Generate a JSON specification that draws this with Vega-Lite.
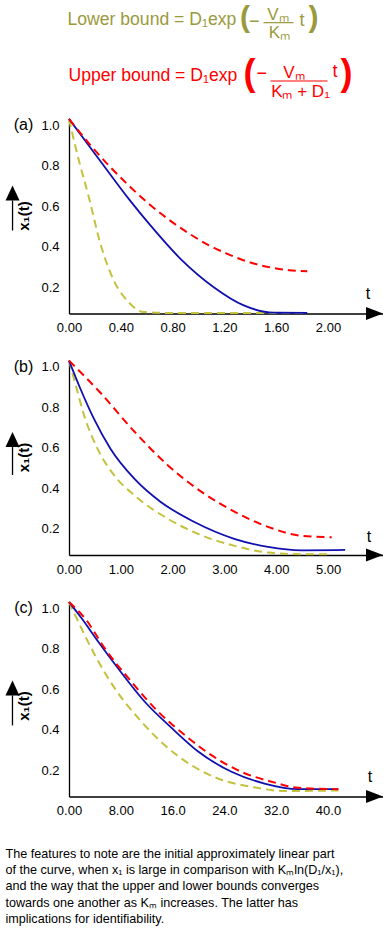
{
  "$schema": "https://vega.github.io/schema/vega-lite/v6.json",
  "padding": {"left": 5, "top": 0, "right": 0, "bottom": 0},
  "config": {
    "font": "Liberation Sans",
    "view": {"stroke": null},
    "axis": {"grid": false, "ticks": false, "domainColor": "#000", "domainWidth": 1.3, "labelColor": "#000", "labelFontSize": 13, "labelFont": "Liberation Sans", "labelFlush": false, "labelOverlap": false, "labelBound": false, "titleColor": "#000", "titleFont": "Liberation Sans"}
  },
  "title": {
    "text": [
      "The features to note are the initial approximately linear part",
      "of the curve, when x₁ is large in comparison with Kₘln(D₁/x₁),",
      "and the way that the upper and lower bounds converges",
      "towards one another as Kₘ increases.  The latter has",
      "implications for identifiability."
    ],
    "orient": "bottom", "anchor": "start", "fontSize": 12.6, "fontWeight": "normal", "lineHeight": 16.4, "color": "#000", "font": "Liberation Sans", "offset": 30
  },
  "datasets": {
    "curves": [
      {"panel":"a","bound":"lower","t":0,"x1":1.031},{"panel":"a","bound":"lower","t":0.063,"x1":0.859},{"panel":"a","bound":"lower","t":0.153,"x1":0.645},{"panel":"a","bound":"lower","t":0.243,"x1":0.414},{"panel":"a","bound":"lower","t":0.346,"x1":0.233},{"panel":"a","bound":"lower","t":0.449,"x1":0.134},{"panel":"a","bound":"lower","t":0.578,"x1":0.077},{"panel":"a","bound":"lower","t":0.75,"x1":0.073},{"panel":"a","bound":"lower","t":1.2,"x1":0.073},{"panel":"a","bound":"lower","t":1.84,"x1":0.073},
      {"panel":"a","bound":"model","t":0,"x1":1.031},{"panel":"a","bound":"model","t":0.243,"x1":0.822},{"panel":"a","bound":"model","t":0.475,"x1":0.625},{"panel":"a","bound":"model","t":0.629,"x1":0.505},{"panel":"a","bound":"model","t":0.861,"x1":0.34},{"panel":"a","bound":"model","t":1.118,"x1":0.2},{"panel":"a","bound":"model","t":1.35,"x1":0.11},{"panel":"a","bound":"model","t":1.582,"x1":0.074},{"panel":"a","bound":"model","t":1.84,"x1":0.073},
      {"panel":"a","bound":"upper","t":0,"x1":1.031},{"panel":"a","bound":"upper","t":0.154,"x1":0.91},{"panel":"a","bound":"upper","t":0.309,"x1":0.8},{"panel":"a","bound":"upper","t":0.463,"x1":0.701},{"panel":"a","bound":"upper","t":0.618,"x1":0.611},{"panel":"a","bound":"upper","t":0.772,"x1":0.533},{"panel":"a","bound":"upper","t":0.927,"x1":0.465},{"panel":"a","bound":"upper","t":1.081,"x1":0.407},{"panel":"a","bound":"upper","t":1.236,"x1":0.361},{"panel":"a","bound":"upper","t":1.39,"x1":0.324},{"panel":"a","bound":"upper","t":1.544,"x1":0.299},{"panel":"a","bound":"upper","t":1.699,"x1":0.284},{"panel":"a","bound":"upper","t":1.84,"x1":0.279},
      {"panel":"b","bound":"lower","t":0,"x1":1.03},{"panel":"b","bound":"lower","t":0.13,"x1":0.909},{"panel":"b","bound":"lower","t":0.29,"x1":0.761},{"panel":"b","bound":"lower","t":0.55,"x1":0.595},{"panel":"b","bound":"lower","t":0.87,"x1":0.464},{"panel":"b","bound":"lower","t":1.26,"x1":0.365},{"panel":"b","bound":"lower","t":1.9,"x1":0.25},{"panel":"b","bound":"lower","t":2.55,"x1":0.168},{"panel":"b","bound":"lower","t":3.2,"x1":0.115},{"panel":"b","bound":"lower","t":3.84,"x1":0.082},{"panel":"b","bound":"lower","t":4.49,"x1":0.074},{"panel":"b","bound":"lower","t":5.07,"x1":0.074},
      {"panel":"b","bound":"model","t":0,"x1":1.03},{"panel":"b","bound":"model","t":0.22,"x1":0.891},{"panel":"b","bound":"model","t":0.48,"x1":0.743},{"panel":"b","bound":"model","t":0.8,"x1":0.595},{"panel":"b","bound":"model","t":1.26,"x1":0.447},{"panel":"b","bound":"model","t":1.77,"x1":0.332},{"panel":"b","bound":"model","t":2.42,"x1":0.233},{"panel":"b","bound":"model","t":3.19,"x1":0.15},{"panel":"b","bound":"model","t":3.84,"x1":0.11},{"panel":"b","bound":"model","t":4.49,"x1":0.093},{"panel":"b","bound":"model","t":5.33,"x1":0.095},
      {"panel":"b","bound":"upper","t":0,"x1":1.03},{"panel":"b","bound":"upper","t":0.61,"x1":0.87},{"panel":"b","bound":"upper","t":1.26,"x1":0.68},{"panel":"b","bound":"upper","t":1.9,"x1":0.515},{"panel":"b","bound":"upper","t":2.55,"x1":0.383},{"panel":"b","bound":"upper","t":3.2,"x1":0.283},{"panel":"b","bound":"upper","t":3.84,"x1":0.209},{"panel":"b","bound":"upper","t":4.49,"x1":0.165},{"panel":"b","bound":"upper","t":5.07,"x1":0.158},
      {"panel":"c","bound":"lower","t":0,"x1":1.03},{"panel":"c","bound":"lower","t":1.43,"x1":0.933},{"panel":"c","bound":"lower","t":4.0,"x1":0.768},{"panel":"c","bound":"lower","t":7.1,"x1":0.603},{"panel":"c","bound":"lower","t":11.2,"x1":0.439},{"panel":"c","bound":"lower","t":14.8,"x1":0.323},{"panel":"c","bound":"lower","t":18.9,"x1":0.225},{"panel":"c","bound":"lower","t":23,"x1":0.159},{"panel":"c","bound":"lower","t":28.2,"x1":0.118},{"panel":"c","bound":"lower","t":33.3,"x1":0.097},{"panel":"c","bound":"lower","t":41.6,"x1":0.1},
      {"panel":"c","bound":"model","t":0,"x1":1.03},{"panel":"c","bound":"model","t":1.95,"x1":0.95},{"panel":"c","bound":"model","t":4.52,"x1":0.834},{"panel":"c","bound":"model","t":7.6,"x1":0.702},{"panel":"c","bound":"model","t":11.7,"x1":0.538},{"panel":"c","bound":"model","t":15.8,"x1":0.41},{"panel":"c","bound":"model","t":20,"x1":0.291},{"panel":"c","bound":"model","t":25.1,"x1":0.192},{"panel":"c","bound":"model","t":30.2,"x1":0.134},{"panel":"c","bound":"model","t":35.4,"x1":0.106},{"panel":"c","bound":"model","t":41.6,"x1":0.106},
      {"panel":"c","bound":"upper","t":0,"x1":1.03},{"panel":"c","bound":"upper","t":2.47,"x1":0.95},{"panel":"c","bound":"upper","t":5.56,"x1":0.8},{"panel":"c","bound":"upper","t":9.66,"x1":0.636},{"panel":"c","bound":"upper","t":13.8,"x1":0.488},{"panel":"c","bound":"upper","t":17.9,"x1":0.373},{"panel":"c","bound":"upper","t":22,"x1":0.274},{"panel":"c","bound":"upper","t":26.6,"x1":0.192},{"panel":"c","bound":"upper","t":31.3,"x1":0.143},{"panel":"c","bound":"upper","t":35.4,"x1":0.113},{"panel":"c","bound":"upper","t":41.6,"x1":0.106}
    ]
  },
  "bounds": "flush",
  "spacing": 46.5,
  "vconcat": [
    {
      "width": 314, "height": 71.5,
      "data": {"values": [{}]},
      "layer": [
        {"mark": {"type": "text", "text": "Lower bound = D₁exp", "align": "left", "baseline": "alphabetic", "fontSize": 17.6, "color": "#9a9a3c", "clip": false},
         "encoding": {"x": {"datum": -0.48, "type": "quantitative", "scale": {"domain": [0, 100]}, "axis": null}, "y": {"datum": 34.3, "type": "quantitative", "scale": {"domain": [0, 100], "reverse": true}, "axis": null}}},
        {"mark": {"type": "text", "text": "(", "align": "left", "baseline": "alphabetic", "fontSize": 30, "fontWeight": "bold", "color": "#9a9a3c", "clip": false},
         "encoding": {"x": {"datum": 54.46, "type": "quantitative", "scale": {"domain": [0, 100]}, "axis": null}, "y": {"datum": 37.8, "type": "quantitative", "scale": {"domain": [0, 100], "reverse": true}, "axis": null}}},
        {"mark": {"type": "text", "text": "−", "align": "left", "baseline": "alphabetic", "fontSize": 18, "color": "#9a9a3c", "clip": false},
         "encoding": {"x": {"datum": 57.32, "type": "quantitative", "scale": {"domain": [0, 100]}, "axis": null}, "y": {"datum": 37.8, "type": "quantitative", "scale": {"domain": [0, 100], "reverse": true}, "axis": null}}},
        {"mark": {"type": "text", "text": "Vₘ", "align": "center", "baseline": "alphabetic", "fontSize": 17, "color": "#9a9a3c", "clip": false},
         "encoding": {"x": {"datum": 66.56, "type": "quantitative", "scale": {"domain": [0, 100]}, "axis": null}, "y": {"datum": 28.0, "type": "quantitative", "scale": {"domain": [0, 100], "reverse": true}, "axis": null}}},
        {"mark": {"type": "rule", "color": "#9a9a3c", "strokeWidth": 1.2, "clip": false},
         "encoding": {"x": {"datum": 61.94, "type": "quantitative", "scale": {"domain": [0, 100]}, "axis": null}, "x2": {"datum": 71.5}, "y": {"datum": 31.7, "type": "quantitative", "scale": {"domain": [0, 100], "reverse": true}, "axis": null}}},
        {"mark": {"type": "text", "text": "Kₘ", "align": "center", "baseline": "alphabetic", "fontSize": 17, "color": "#9a9a3c", "clip": false},
         "encoding": {"x": {"datum": 67.04, "type": "quantitative", "scale": {"domain": [0, 100]}, "axis": null}, "y": {"datum": 53.1, "type": "quantitative", "scale": {"domain": [0, 100], "reverse": true}, "axis": null}}},
        {"mark": {"type": "text", "text": "t", "align": "left", "baseline": "alphabetic", "fontSize": 18, "color": "#9a9a3c", "clip": false},
         "encoding": {"x": {"datum": 73.41, "type": "quantitative", "scale": {"domain": [0, 100]}, "axis": null}, "y": {"datum": 36.4, "type": "quantitative", "scale": {"domain": [0, 100], "reverse": true}, "axis": null}}},
        {"mark": {"type": "text", "text": ")", "align": "left", "baseline": "alphabetic", "fontSize": 30, "fontWeight": "bold", "color": "#9a9a3c", "clip": false},
         "encoding": {"x": {"datum": 76.27, "type": "quantitative", "scale": {"domain": [0, 100]}, "axis": null}, "y": {"datum": 37.8, "type": "quantitative", "scale": {"domain": [0, 100], "reverse": true}, "axis": null}}},
        {"mark": {"type": "text", "text": "Upper bound = D₁exp", "align": "left", "baseline": "alphabetic", "fontSize": 17.6, "color": "#ff0000", "clip": false},
         "encoding": {"x": {"datum": -0.16, "type": "quantitative", "scale": {"domain": [0, 100]}, "axis": null}, "y": {"datum": 113.3, "type": "quantitative", "scale": {"domain": [0, 100], "reverse": true}, "axis": null}}},
        {"mark": {"type": "text", "text": "(", "align": "left", "baseline": "alphabetic", "fontSize": 36, "fontWeight": "bold", "color": "#ff0000", "clip": false},
         "encoding": {"x": {"datum": 55.57, "type": "quantitative", "scale": {"domain": [0, 100]}, "axis": null}, "y": {"datum": 118.2, "type": "quantitative", "scale": {"domain": [0, 100], "reverse": true}, "axis": null}}},
        {"mark": {"type": "text", "text": "−", "align": "left", "baseline": "alphabetic", "fontSize": 18, "color": "#ff0000", "clip": false},
         "encoding": {"x": {"datum": 59.71, "type": "quantitative", "scale": {"domain": [0, 100]}, "axis": null}, "y": {"datum": 110.5, "type": "quantitative", "scale": {"domain": [0, 100], "reverse": true}, "axis": null}}},
        {"mark": {"type": "text", "text": "Vₘ", "align": "center", "baseline": "alphabetic", "fontSize": 17, "color": "#ff0000", "clip": false},
         "encoding": {"x": {"datum": 71.66, "type": "quantitative", "scale": {"domain": [0, 100]}, "axis": null}, "y": {"datum": 109.1, "type": "quantitative", "scale": {"domain": [0, 100], "reverse": true}, "axis": null}}},
        {"mark": {"type": "rule", "color": "#ff0000", "strokeWidth": 1.2, "clip": false},
         "encoding": {"x": {"datum": 64.17, "type": "quantitative", "scale": {"domain": [0, 100]}, "axis": null}, "x2": {"datum": 82.32}, "y": {"datum": 113.3, "type": "quantitative", "scale": {"domain": [0, 100], "reverse": true}, "axis": null}}},
        {"mark": {"type": "text", "text": "Kₘ + D₁", "align": "center", "baseline": "alphabetic", "fontSize": 17, "color": "#ff0000", "clip": false},
         "encoding": {"x": {"datum": 73.73, "type": "quantitative", "scale": {"domain": [0, 100]}, "axis": null}, "y": {"datum": 135.7, "type": "quantitative", "scale": {"domain": [0, 100], "reverse": true}, "axis": null}}},
        {"mark": {"type": "text", "text": "t", "align": "left", "baseline": "alphabetic", "fontSize": 18, "color": "#ff0000", "clip": false},
         "encoding": {"x": {"datum": 83.92, "type": "quantitative", "scale": {"domain": [0, 100]}, "axis": null}, "y": {"datum": 107.7, "type": "quantitative", "scale": {"domain": [0, 100], "reverse": true}, "axis": null}}},
        {"mark": {"type": "text", "text": ")", "align": "left", "baseline": "alphabetic", "fontSize": 36, "fontWeight": "bold", "color": "#ff0000", "clip": false},
         "encoding": {"x": {"datum": 86.46, "type": "quantitative", "scale": {"domain": [0, 100]}, "axis": null}, "y": {"datum": 118.2, "type": "quantitative", "scale": {"domain": [0, 100], "reverse": true}, "axis": null}}}
      ]
    },
    {
      "width": 314, "height": 195,
      "encoding": {
        "x": {"type": "quantitative", "scale": {"domain": [0, 2.425], "nice": false, "zero": false},
              "axis": {"values": [0, 0.4, 0.8, 1.2, 1.6, 2.0], "format": ".2f", "labelPadding": 8, "title": "t", "titleFontSize": 16, "titleFontWeight": "normal", "titleX": 298.5, "titleY": -20, "titleBaseline": "middle", "titleAlign": "center", "titleAngle": 0}},
        "y": {"type": "quantitative", "scale": {"domain": [0.07, 1.033], "nice": false, "zero": false},
              "axis": {"values": [0.2, 0.4, 0.6, 0.8, 1.0], "format": ".1f", "labelPadding": 10, "title": "x₁(t)", "titleFontSize": 15, "titleFontWeight": "bold", "titleX": -40.5, "titleY": 97, "titleBaseline": "alphabetic", "titleAlign": "center", "titleAngle": 270}}
      },
      "layer": [
        {"data": {"name": "curves"}, "transform": [{"filter": "datum.panel === 'a' && datum.bound === 'lower'"}],
         "mark": {"type": "line", "color": "#c4c13c", "strokeWidth": 2, "strokeDash": [8, 5], "interpolate": "monotone", "clip": false},
         "encoding": {"x": {"field": "t", "type": "quantitative"}, "y": {"field": "x1", "type": "quantitative"}}},
        {"data": {"name": "curves"}, "transform": [{"filter": "datum.panel === 'a' && datum.bound === 'model'"}],
         "mark": {"type": "line", "color": "#1010b0", "strokeWidth": 1.8, "interpolate": "monotone", "clip": false},
         "encoding": {"x": {"field": "t", "type": "quantitative"}, "y": {"field": "x1", "type": "quantitative"}}},
        {"data": {"name": "curves"}, "transform": [{"filter": "datum.panel === 'a' && datum.bound === 'upper'"}],
         "mark": {"type": "line", "color": "#ff0000", "strokeWidth": 2, "strokeDash": [8, 5], "interpolate": "monotone", "clip": false},
         "encoding": {"x": {"field": "t", "type": "quantitative"}, "y": {"field": "x1", "type": "quantitative"}}},
        {"data": {"values": [{}]},
         "mark": {"type": "point", "shape": "M 0 0 L -2 -0.765 L -2 0.765 Z", "filled": true, "color": "#000", "opacity": 1, "size": 289, "strokeWidth": 0, "clip": false},
         "encoding": {"x": {"datum": 2.425}, "y": {"datum": 0.07}}},
        {"data": {"values": [{}]},
         "mark": {"type": "rule", "color": "#000", "strokeWidth": 1.3, "clip": false},
         "encoding": {"x": {"datum": -0.436}, "y": {"datum": 0.628}, "y2": {"datum": 0.48}}},
        {"data": {"values": [{}]},
         "mark": {"type": "point", "shape": "M 0 0 L 1 2.14 L -1 2.14 Z", "filled": true, "color": "#000", "opacity": 1, "size": 196, "strokeWidth": 0, "clip": false},
         "encoding": {"x": {"datum": -0.436}, "y": {"datum": 0.702}}},
        {"data": {"values": [{}]},
         "mark": {"type": "text", "text": "(a)", "fontSize": 16, "align": "center", "baseline": "middle", "color": "#000", "clip": false},
         "encoding": {"x": {"datum": -0.351}, "y": {"datum": 1.0}}}
      ]
    },
    {
      "width": 314, "height": 195,
      "encoding": {
        "x": {"type": "quantitative", "scale": {"domain": [0, 6.06], "nice": false, "zero": false},
              "axis": {"values": [0, 1, 2, 3, 4, 5], "format": ".2f", "labelPadding": 8, "title": "t", "titleFontSize": 16, "titleFontWeight": "normal", "titleX": 299.5, "titleY": -19, "titleBaseline": "middle", "titleAlign": "center", "titleAngle": 0}},
        "y": {"type": "quantitative", "scale": {"domain": [0.07, 1.033], "nice": false, "zero": false},
              "axis": {"values": [0.2, 0.4, 0.6, 0.8, 1.0], "format": ".1f", "labelPadding": 10, "title": "x₁(t)", "titleFontSize": 15, "titleFontWeight": "bold", "titleX": -40.5, "titleY": 97, "titleBaseline": "alphabetic", "titleAlign": "center", "titleAngle": 270}}
      },
      "layer": [
        {"data": {"name": "curves"}, "transform": [{"filter": "datum.panel === 'b' && datum.bound === 'lower'"}],
         "mark": {"type": "line", "color": "#c4c13c", "strokeWidth": 2, "strokeDash": [8, 5], "interpolate": "monotone", "clip": false},
         "encoding": {"x": {"field": "t", "type": "quantitative"}, "y": {"field": "x1", "type": "quantitative"}}},
        {"data": {"name": "curves"}, "transform": [{"filter": "datum.panel === 'b' && datum.bound === 'model'"}],
         "mark": {"type": "line", "color": "#1010b0", "strokeWidth": 1.8, "interpolate": "monotone", "clip": false},
         "encoding": {"x": {"field": "t", "type": "quantitative"}, "y": {"field": "x1", "type": "quantitative"}}},
        {"data": {"name": "curves"}, "transform": [{"filter": "datum.panel === 'b' && datum.bound === 'upper'"}],
         "mark": {"type": "line", "color": "#ff0000", "strokeWidth": 2, "strokeDash": [8, 5], "interpolate": "monotone", "clip": false},
         "encoding": {"x": {"field": "t", "type": "quantitative"}, "y": {"field": "x1", "type": "quantitative"}}},
        {"data": {"values": [{}]},
         "mark": {"type": "point", "shape": "M 0 0 L -2 -0.765 L -2 0.765 Z", "filled": true, "color": "#000", "opacity": 1, "size": 289, "strokeWidth": 0, "clip": false},
         "encoding": {"x": {"datum": 6.06}, "y": {"datum": 0.07}}},
        {"data": {"values": [{}]},
         "mark": {"type": "rule", "color": "#000", "strokeWidth": 1.3, "clip": false},
         "encoding": {"x": {"datum": -1.09}, "y": {"datum": 0.603}, "y2": {"datum": 0.465}}},
        {"data": {"values": [{}]},
         "mark": {"type": "point", "shape": "M 0 0 L 1 2.14 L -1 2.14 Z", "filled": true, "color": "#000", "opacity": 1, "size": 196, "strokeWidth": 0, "clip": false},
         "encoding": {"x": {"datum": -1.09}, "y": {"datum": 0.677}}},
        {"data": {"values": [{}]},
         "mark": {"type": "text", "text": "(b)", "fontSize": 16, "align": "center", "baseline": "middle", "color": "#000", "clip": false},
         "encoding": {"x": {"datum": -0.878}, "y": {"datum": 1.0}}}
      ]
    },
    {
      "width": 314, "height": 195,
      "encoding": {
        "x": {"type": "quantitative", "scale": {"domain": [0, 48.5], "nice": false, "zero": false},
              "axis": {"values": [0, 8, 16, 24, 32, 40], "labelExpr": "datum.value === 0 ? '0.00' : format(datum.value, '.3r')", "labelPadding": 8, "title": "t", "titleFontSize": 16, "titleFontWeight": "normal", "titleX": 300.5, "titleY": -20, "titleBaseline": "middle", "titleAlign": "center", "titleAngle": 0}},
        "y": {"type": "quantitative", "scale": {"domain": [0.07, 1.033], "nice": false, "zero": false},
              "axis": {"values": [0.2, 0.4, 0.6, 0.8, 1.0], "format": ".1f", "labelPadding": 10, "title": "x₁(t)", "titleFontSize": 15, "titleFontWeight": "bold", "titleX": -40.5, "titleY": 104, "titleBaseline": "alphabetic", "titleAlign": "center", "titleAngle": 270}}
      },
      "layer": [
        {"data": {"name": "curves"}, "transform": [{"filter": "datum.panel === 'c' && datum.bound === 'lower'"}],
         "mark": {"type": "line", "color": "#c4c13c", "strokeWidth": 2, "strokeDash": [8, 5], "interpolate": "monotone", "clip": false},
         "encoding": {"x": {"field": "t", "type": "quantitative"}, "y": {"field": "x1", "type": "quantitative"}}},
        {"data": {"name": "curves"}, "transform": [{"filter": "datum.panel === 'c' && datum.bound === 'model'"}],
         "mark": {"type": "line", "color": "#1010b0", "strokeWidth": 1.8, "interpolate": "monotone", "clip": false},
         "encoding": {"x": {"field": "t", "type": "quantitative"}, "y": {"field": "x1", "type": "quantitative"}}},
        {"data": {"name": "curves"}, "transform": [{"filter": "datum.panel === 'c' && datum.bound === 'upper'"}],
         "mark": {"type": "line", "color": "#ff0000", "strokeWidth": 2, "strokeDash": [8, 5], "interpolate": "monotone", "clip": false},
         "encoding": {"x": {"field": "t", "type": "quantitative"}, "y": {"field": "x1", "type": "quantitative"}}},
        {"data": {"values": [{}]},
         "mark": {"type": "point", "shape": "M 0 0 L -2 -0.765 L -2 0.765 Z", "filled": true, "color": "#000", "opacity": 1, "size": 289, "strokeWidth": 0, "clip": false},
         "encoding": {"x": {"datum": 48.5}, "y": {"datum": 0.07}}},
        {"data": {"values": [{}]},
         "mark": {"type": "rule", "color": "#000", "strokeWidth": 1.3, "clip": false},
         "encoding": {"x": {"datum": -8.73}, "y": {"datum": 0.569}, "y2": {"datum": 0.421}}},
        {"data": {"values": [{}]},
         "mark": {"type": "point", "shape": "M 0 0 L 1 2.14 L -1 2.14 Z", "filled": true, "color": "#000", "opacity": 1, "size": 196, "strokeWidth": 0, "clip": false},
         "encoding": {"x": {"datum": -8.73}, "y": {"datum": 0.643}}},
        {"data": {"values": [{}]},
         "mark": {"type": "text", "text": "(c)", "fontSize": 16, "align": "center", "baseline": "middle", "color": "#000", "clip": false},
         "encoding": {"x": {"datum": -7.03}, "y": {"datum": 1.0}}}
      ]
    }
  ]
}
